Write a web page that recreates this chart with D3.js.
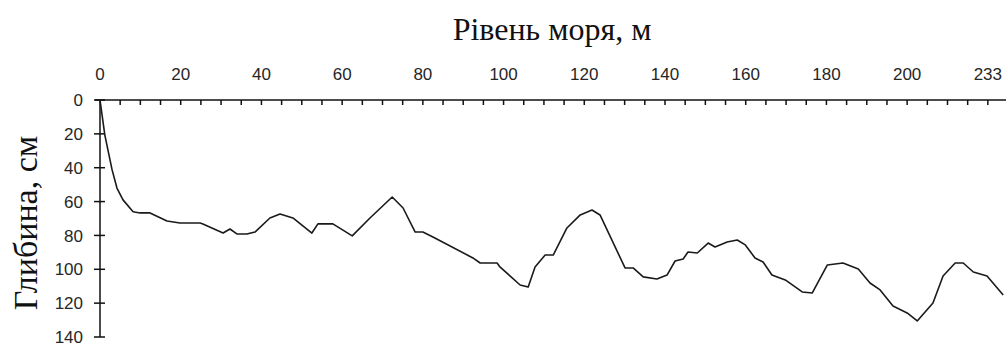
<!DOCTYPE html>
<html>
<head>
<meta charset="utf-8">
<script src="https://d3js.org/d3.v7.min.js"></script>
<style>
    body { margin: 0; background: #fff; }
    .tick-label { font-family: "Liberation Sans", Arial, sans-serif; font-size: 17px; fill: #262626; }
    .title { font-family: "Liberation Serif", "Times New Roman", serif; fill: #111; }
</style>
</head>
<body>
<svg id="chart" width="1008" height="345"></svg>
<script>
// distance along profile (m) and depth (cm)
var distance = [0, 1.2, 3, 4.2, 5.7, 8.2, 9.9, 12.4, 16.6, 19.8, 24.8, 25.5, 30.5, 32.2, 34, 36.4, 38.4,
    42.1, 44.6, 47.8, 52.5, 54, 57.7, 62.5, 66.9, 72.4, 75.1, 78.1, 80, 82.5, 92.4, 94.2, 98.4, 99.1,
    104.1, 106.1, 107.8, 110.3, 112.3, 115.7, 119, 121.9, 123.9, 130.1, 132.1, 134.6, 138, 140.5, 142.5,
    144.5, 145.7, 148, 150.7, 152.4, 155.4, 157.9, 159.9, 162.3, 164.3, 166.5, 169.8, 174, 176.5, 180.2,
    184.1, 187.9, 190.8, 193.3, 196.5, 200, 202.5, 206.4, 208.9, 211.9, 213.9, 216.4, 219.8, 223.8];
var depth = [0, 20.7, 41.3, 52, 59, 66, 66.7, 66.7, 71.5, 72.7, 72.7, 73.2, 78.6, 76.2, 79.2, 79.2, 78,
    69.7, 67.3, 69.7, 78.6, 73.2, 73.2, 80.3, 69.7, 57.3, 63.8, 78, 78, 80.9, 93.3, 96.3, 96.3, 98.6,
    109.3, 110.5, 98.6, 91.6, 91.6, 75.6, 67.9, 65, 67.9, 99.2, 99.2, 104.5, 105.7, 103.4, 95.1,
    93.9, 89.8, 90.4, 84.5, 86.8, 83.9, 82.7, 85.6, 93.3, 95.7, 103.4, 106.3, 113.4, 114, 97.5,
    96.3, 99.8, 108.1, 112.2, 121.7, 125.8, 130.5, 119.9, 104, 96.3, 96.3, 101.6, 104, 115.2];

var xTickValues = [0, 20, 40, 60, 80, 100, 120, 140, 160, 180, 200, 220];
var xTickLabels = ["0", "20", "40", "60", "80", "100", "120", "140", "160", "180", "200", "233"];
var yTickValues = [0, 20, 40, 60, 80, 100, 120, 140];

var svg = d3.select("#chart");

var x = d3.scaleLinear().domain([0, 224]).range([100, 1004]);
var y = d3.scaleLinear().domain([0, 140]).range([100, 337]);

// x axis on top: long line + minor ticks every 5
svg.append("line")
    .attr("x1", 95).attr("x2", 1006)
    .attr("y1", y(0)).attr("y2", y(0))
    .attr("stroke", "#111").attr("stroke-width", 1.5);

svg.selectAll(".xminor")
    .data(d3.range(5, 221, 5))
    .enter().append("line")
    .attr("class", "xminor")
    .attr("x1", function (d) { return x(d); })
    .attr("x2", function (d) { return x(d); })
    .attr("y1", y(0)).attr("y2", y(0) + 5)
    .attr("stroke", "#111").attr("stroke-width", 1.5);

svg.selectAll(".xlabel")
    .data(xTickValues)
    .enter().append("text")
    .attr("class", "tick-label")
    .attr("x", function (d) { return x(d); })
    .attr("y", 80)
    .attr("text-anchor", "middle")
    .text(function (d, i) { return xTickLabels[i]; });

// y axis with crossing ticks
svg.append("line")
    .attr("x1", x(0)).attr("x2", x(0))
    .attr("y1", y(0)).attr("y2", y(140))
    .attr("stroke", "#111").attr("stroke-width", 1.5);

svg.selectAll(".ytick")
    .data(yTickValues)
    .enter().append("line")
    .attr("class", "ytick")
    .attr("x1", x(0) - 6).attr("x2", x(0) + 5)
    .attr("y1", function (d) { return y(d); })
    .attr("y2", function (d) { return y(d); })
    .attr("stroke", "#111").attr("stroke-width", 1.5);

svg.selectAll(".ylabel")
    .data(yTickValues)
    .enter().append("text")
    .attr("class", "tick-label")
    .attr("x", 83)
    .attr("y", function (d) { return y(d); })
    .attr("dy", "0.36em")
    .attr("text-anchor", "end")
    .text(function (d) { return d; });

// profile line
var line = d3.line()
    .x(function (d) { return x(d[0]); })
    .y(function (d) { return y(d[1]); });

svg.append("path")
    .datum(d3.zip(distance, depth))
    .attr("d", line)
    .attr("fill", "none")
    .attr("stroke", "#1a1a1a")
    .attr("stroke-width", 1.6)
    .attr("stroke-linejoin", "round");

// titles
svg.append("text")
    .attr("class", "title")
    .attr("x", 552)
    .attr("y", 40)
    .attr("text-anchor", "middle")
    .style("font-size", "32px")
    .text("Рівень моря, м");

svg.append("text")
    .attr("class", "title")
    .attr("transform", "translate(37,223) rotate(-90)")
    .attr("text-anchor", "middle")
    .style("font-size", "34px")
    .text("Глибина, см");
</script>
</body>
</html>
